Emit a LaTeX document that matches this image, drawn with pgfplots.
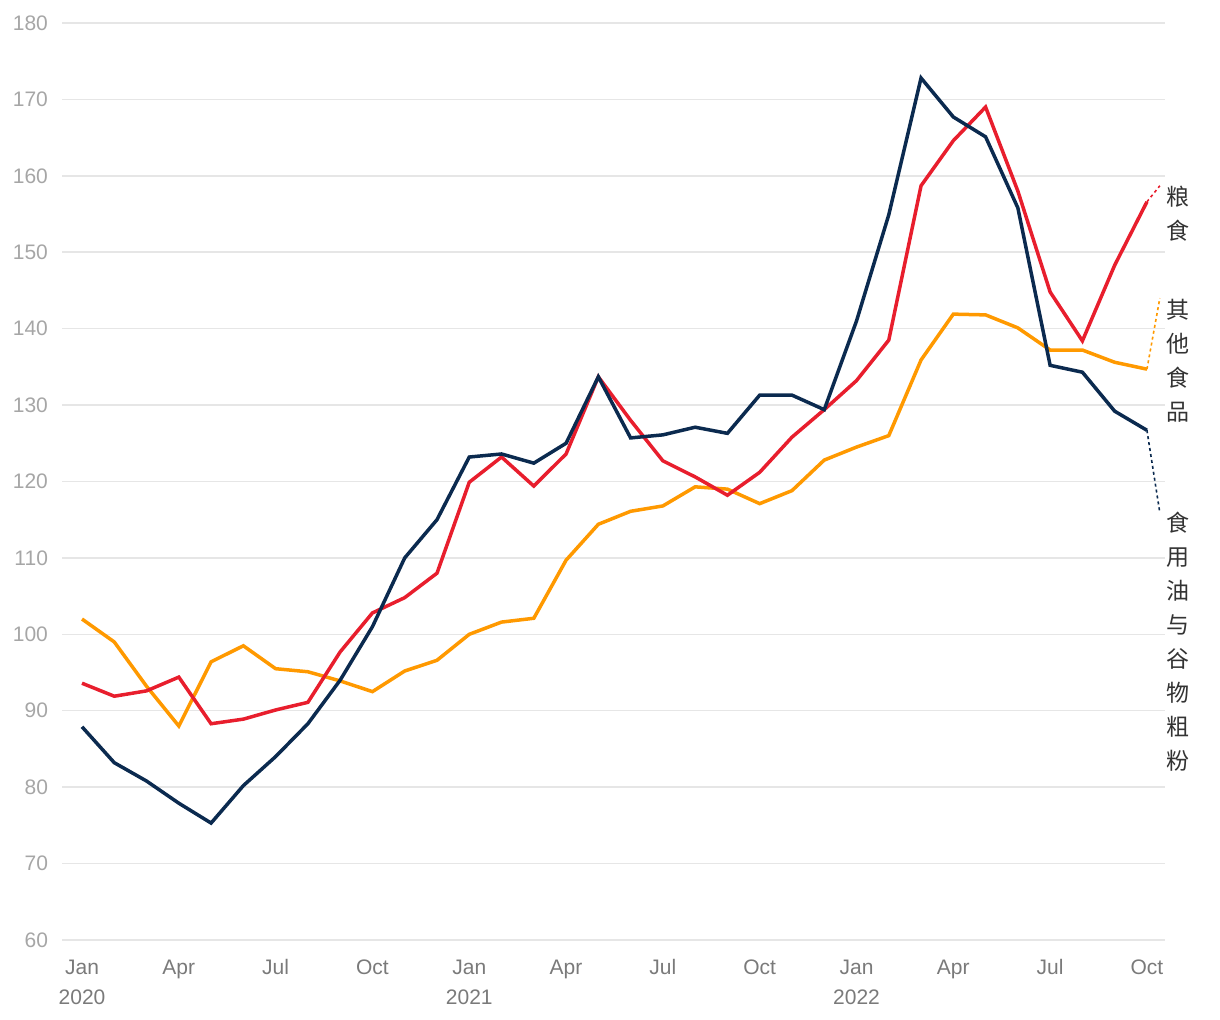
\documentclass[border=0pt]{standalone}
\usepackage{fontspec}
\setmainfont{Liberation Sans}
\newfontfamily\cjk{Noto Sans CJK SC}
\usepackage{pgfplots}
\pgfplotsset{compat=1.18}

\definecolor{navy}{HTML}{0B2A4F}
\definecolor{cred}{HTML}{E81E2D}
\definecolor{corange}{HTML}{FF9900}
\definecolor{gridc}{HTML}{E6E6E6}
\definecolor{ylab}{HTML}{A6A6A6}
\definecolor{xlab}{HTML}{7A7A7A}
\definecolor{txt}{HTML}{333333}

\pgfplotstableread{
m   oil    grain  other
0   87.9   93.6   102.0
1   83.2   91.9   99.0
2   80.8   92.6   93.2
3   77.9   94.4   88.0
4   75.3   88.3   96.4
5   80.2   88.9   98.5
6   84.0   90.1   95.5
7   88.3   91.1   95.1
8   94.0   97.7   93.9
9   101.0  102.8  92.5
10  110.0  104.8  95.2
11  115.0  108.0  96.6
12  123.2  119.9  100.0
13  123.6  123.2  101.6
14  122.4  119.4  102.1
15  125.0  123.6  109.7
16  133.7  133.7  114.4
17  125.7  128.0  116.1
18  126.1  122.7  116.8
19  127.1  120.6  119.3
20  126.3  118.2  119.0
21  131.3  121.2  117.1
22  131.3  125.8  118.8
23  129.4  129.4  122.8
24  141.0  133.2  124.5
25  154.9  138.5  126.0
26  172.8  158.7  135.9
27  167.7  164.6  141.9
28  165.1  169.0  141.8
29  155.8  158.0  140.1
30  135.2  144.8  137.2
31  134.3  138.4  137.2
32  129.2  148.3  135.6
33  126.7  156.6  134.7
}\data

\begin{document}
\begin{tikzpicture}
\useasboundingbox (-31pt,-40pt) rectangle (579pt,470pt);
\begin{axis}[
    at={(0,0)}, anchor=south west,
    scale only axis, width=551.5pt, height=458.5pt,
    xmin=-0.62, xmax=33.56, ymin=60, ymax=180,
    ytick={60,70,...,180},
    xtick={0,3,...,33},
    xticklabels={{\strut Jan\\2020},\strut Apr,\strut Jul,\strut Oct,{\strut Jan\\2021},\strut Apr,\strut Jul,\strut Oct,{\strut Jan\\2022},\strut Apr,\strut Jul,\strut Oct},
    axis line style={draw=none},
    major tick length=0pt,
    ymajorgrids, grid style={gridc, line width=0.75pt},
    /pgf/number format/assume math mode=true,
    tick label style={font=\fontsize{10.5}{15}\selectfont},
    yticklabel style={ylab, anchor=east, xshift=-3.5pt},
    xticklabel style={xlab, align=center, yshift=-3pt},
    clip=false,
]
\addplot[corange, line width=1.75pt] table[x=m, y=other] {\data};
\addplot[cred, line width=1.75pt] table[x=m, y=grain] {\data};
\addplot[navy, line width=1.75pt] table[x=m, y=oil] {\data};

\addplot[cred, line width=0.8pt, dash pattern=on 1.5pt off 1.5pt] coordinates {(33,156.6) (33.4,158.7)};
\addplot[corange, line width=0.8pt, dash pattern=on 1.5pt off 1.5pt] coordinates {(33,134.7) (33.4,144.0)};
\addplot[navy, line width=0.8pt, dash pattern=on 1.5pt off 1.5pt] coordinates {(33,126.7) (33.4,115.9)};

\node[txt, align=center, font=\cjk\fontsize{11.5}{17}\selectfont] at (axis cs:33.96,155.1) {粮\\食};
\node[txt, align=center, font=\cjk\fontsize{11.5}{17}\selectfont] at (axis cs:33.96,135.8) {其\\他\\食\\品};
\node[txt, align=center, font=\cjk\fontsize{11.5}{17}\selectfont] at (axis cs:33.96,99.1) {食\\用\\油\\与\\谷\\物\\粗\\粉};
\end{axis}
\end{tikzpicture}
\end{document}
